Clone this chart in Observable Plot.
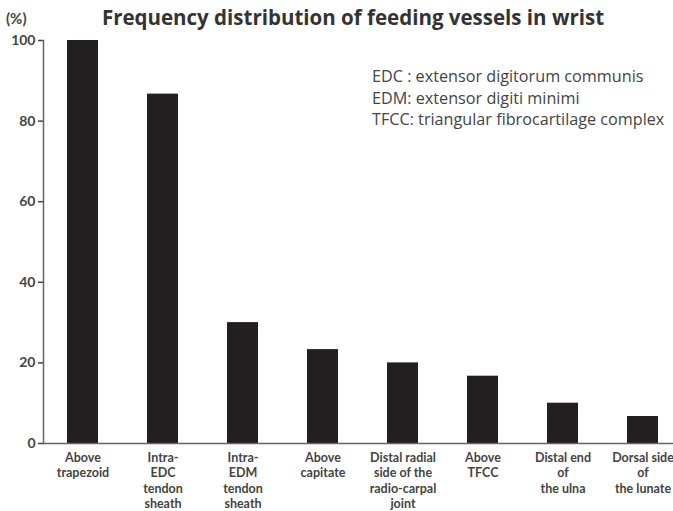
<!DOCTYPE html>
<html>
<head>
<meta charset="utf-8">
<script src="https://cdn.jsdelivr.net/npm/d3@7"></script>
<script src="https://cdn.jsdelivr.net/npm/@observablehq/plot@0.6"></script>
<style>
  html, body { margin: 0; padding: 0; background: #fff; }
  #wrap { position: relative; width: 673px; height: 511px; font-family: Lato, "Open Sans", sans-serif; }
  #title { position: absolute; left: 0; width: 673px; top: 3px; text-align: center; padding-left: 33px; box-sizing: border-box;
           font-family: "Open Sans", sans-serif; font-size: 20.5px; font-weight: bold; color: #333; white-space: nowrap; }
  #notes { position: absolute; left: 372px; top: 66px; font-family: "Open Sans", sans-serif; font-size: 16.2px; line-height: 21.5px; color: #444; white-space: nowrap; }
  #unit { position: absolute; left: 6px; top: 9px; font-size: 15px; font-weight: bold; color: #444; }
  svg { position: absolute; left: 0; top: 0; }
</style>
</head>
<body>
<div id="wrap">
  <div id="title"></div>
  <div id="unit"></div>
  <div id="notes"></div>
</div>
<script>
const titleText = "Frequency distribution of feeding vessels in wrist";
const unitText = "(%)";
const notes = [
  "EDC : extensor digitorum communis",
  "EDM: extensor digiti minimi",
  "TFCC: triangular fibrocartilage complex"
];
const categories = [
  "Above\ntrapezoid",
  "Intra-\nEDC\ntendon\nsheath",
  "Intra-\nEDM\ntendon\nsheath",
  "Above\ncapitate",
  "Distal radial\nside of the\nradio-carpal\njoint",
  "Above\nTFCC",
  "Distal end\nof\nthe ulna",
  "Dorsal side\nof\nthe lunate"
];
const values = [100, 86.7, 30, 23.3, 20, 16.7, 10, 6.7];
const yTicks = [0, 20, 40, 60, 80, 100];

const data = categories.map((c, i) => ({category: c, value: values[i]}));

document.getElementById("title").textContent = titleText;
document.getElementById("unit").textContent = unitText;
document.getElementById("notes").innerHTML = notes.map(n => `<div>${n}</div>`).join("");

const chart = Plot.plot({
  width: 673,
  height: 511,
  marginLeft: 43,
  marginRight: 0,
  marginTop: 40,
  marginBottom: 68,
  style: {fontFamily: "Lato, 'Open Sans', sans-serif", background: "transparent"},
  x: {domain: categories, range: [43, 683], paddingInner: 0.61, paddingOuter: 0.305, label: null},
  y: {domain: [0, 100], label: null},
  marks: [
    Plot.barY(data, {x: "category", y: "value", fill: "#231f20"}),
    Plot.frame({anchor: "left", stroke: "#666", strokeWidth: 1.5}),
    Plot.axisY({ticks: yTicks, tickSize: 5, tickPadding: 3, fontSize: 14, fontWeight: "bold", color: "#444", strokeWidth: 1.5, label: null}),
    Plot.axisX({tickSize: 0, fontSize: 12.5, fontWeight: "bold", fill: "#444", tickPadding: 7, lineHeight: 1.25, label: null}),
    Plot.ruleY([0], {stroke: "#666", strokeWidth: 1.5})
  ]
});
document.getElementById("wrap").appendChild(chart);
</script>
</body>
</html>
